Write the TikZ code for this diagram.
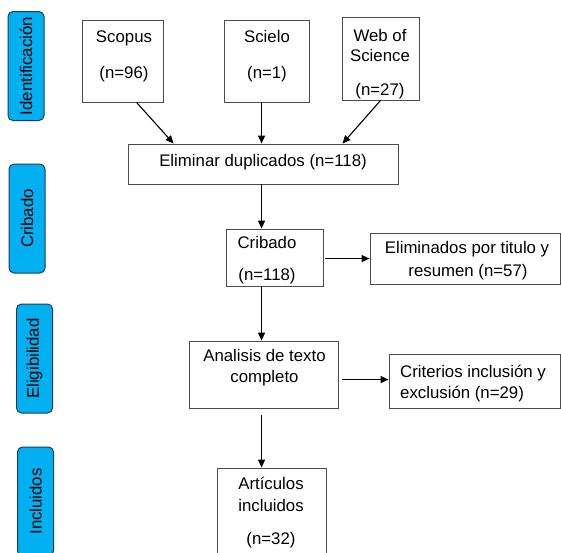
\documentclass[tikz,border=0pt]{standalone}
\usepackage{fontspec}
\setmainfont{Liberation Sans}
\usetikzlibrary{arrows.meta,calc}
\definecolor{lblfill}{HTML}{00B0F0}
\definecolor{lbldraw}{HTML}{1F3A60}
\begin{document}
\begin{tikzpicture}[x=1pt,y=-1pt,
  font=\fontsize{16.8}{21}\selectfont,
  box/.style={draw=black!70, line width=0.9pt, inner sep=0pt},
  lbl/.style={draw=lbldraw, fill=lblfill, line width=1pt, rounded corners=5pt, inner sep=0pt, minimum width=36pt, minimum height=109pt},
  txt/.style={anchor=base, inner sep=0pt},
  txtl/.style={anchor=base west, inner sep=0pt},
  arr/.style={-{Triangle[length=8pt,width=7pt]}, line width=1.1pt}]
\clip (0,0) rectangle (561,552);
% side labels
\node[lbl] (lid) at (26,66) {\rotatebox{90}{Identificación}};
\node[lbl] (lcr) at (27,218.5) {\rotatebox{90}{Cribado}};
\node[lbl] (lel) at (34.5,358.5) {\rotatebox{90}{Eligibilidad}};
\node[lbl] (lin) at (35.5,501.5) {\rotatebox{90}{Incluidos}};
% boxes
\node[box, minimum width=81pt, minimum height=82pt] (scopus) at (122.5,61) {};
\node[box, minimum width=85pt, minimum height=82pt] (scielo) at (266.5,61) {};
\node[box, minimum width=77pt, minimum height=83pt] (wos) at (380.5,58.5) {};
\node[box, minimum width=270pt, minimum height=40pt] (elim) at (263,164) {};
\node[box, minimum width=97pt, minimum height=57pt] (crib) at (274.5,257.5) {};
\node[box, minimum width=190pt, minimum height=51pt] (elimtit) at (465,258.5) {};
\node[box, minimum width=149pt, minimum height=67pt] (anal) at (263.5,374.5) {};
\node[box, minimum width=171pt, minimum height=54pt] (crit) at (474.5,381) {};
\node[box, minimum width=109pt, minimum height=92pt] (art) at (271.5,514) {};
% texts
\node[txt] (tsc1) at (124,42) {Scopus};
\node[txt] (tsc2) at (124,78) {(n=96)};
\node[txt] (tsi1) at (267,42) {Scielo};
\node[txt] (tsi2) at (267,78) {(n=1)};
\node[txt] (tw1) at (380,41) {Web of};
\node[txt] (tw2) at (380,61) {Science};
\node[txt] (tw3) at (380,95) {(n=27)};
\node[txt] (tel) at (263,166) {Eliminar duplicados (n=118)};
\node[txt] (tcr1) at (267,248) {Cribado};
\node[txt] (tcr2) at (267,280) {(n=118)};
\node[txt] (tet1) at (467,253) {Eliminados por titulo y};
\node[txt] (tet2) at (468,276) {resumen (n=57)};
\node[txt] (tan1) at (264.5,361) {Analisis de texto};
\node[txt] (tan2) at (264.5,382) {completo};
\node[txtl] (tcrit1) at (400,377) {Criterios inclusión y};
\node[txtl] (tcrit2) at (400,398) {exclusión (n=29)};
\node[txt] (tar1) at (271,489) {Artículos};
\node[txt] (tar2) at (271,511) {incluidos};
\node[txt] (tar3) at (271,544) {(n=32)};
% arrows
\draw[arr] ($(scopus.south west)+(55,0)$) -- ($(elim.north west)+(46,0)$);
\draw[arr] ($(scielo.south west)+(38,0)$) -- ($(elim.north west)+(134,0)$);
\draw[arr] ($(wos.south west)+(39,0)$) -- ($(elim.north west)+(215,0)$);
\draw[arr] ($(elim.south west)+(134,0)$) -- ($(crib.north west)+(36,0)$);
\draw[arr, shorten <=2pt] ($(crib.north east)+(0,30)$) -- ($(elimtit.north west)+(0,26)$);
\draw[arr] ($(crib.south west)+(36,0)$) -- ($(anal.north west)+(73,0)$);
\draw[arr, shorten <=4pt] ($(anal.north east)+(0,39)$) -- ($(crit.north west)+(0,26)$);
\draw[arr, shorten <=7pt] ($(anal.south west)+(73,0)$) -- ($(art.north west)+(45,0)$);
\end{tikzpicture}
\end{document}
